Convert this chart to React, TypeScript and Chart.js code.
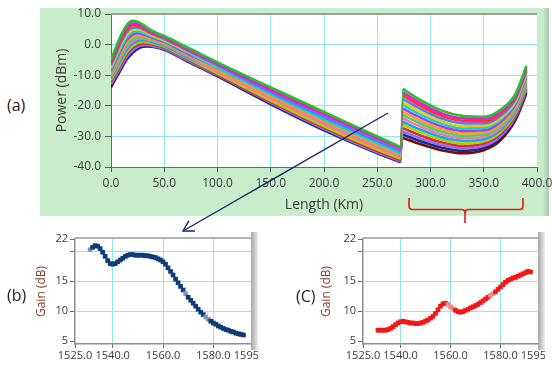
import React, { useEffect, useRef } from "react";
import { Chart, registerables } from "chart.js";
Chart.register(...registerables);

// ---------- Panel (a): power along the link ----------
// span 1: indices 0..15 (0-272 km), span 2: indices 16..23 (274-390 km)
const LENGTH_KM = [0, 5, 10, 15, 20, 25, 30, 35, 40, 50, 70, 100, 150, 200, 250, 272, 274, 290, 310, 330, 350, 365, 380, 390];
const SPAN1_END = 15;

const POWER_01 = [-5.0, -0.5, 3.5, 6.5, 7.8, 7.5, 6.5, 5.3, 4.3, 2.8, -0.6, -5.8, -14.0, -22.0, -30.0, -33.5, -14.5, -18.0, -21.5, -23.3, -23.6, -21.5, -16.0, -7.0];
const POWER_02 = [-5.6, -1.2, 2.7, 5.7, 7.0, 6.9, 6.0, 4.9, 3.9, 2.5, -1.1, -6.4, -14.9, -22.9, -30.6, -33.9, -15.6, -19.0, -22.4, -24.1, -24.3, -22.2, -16.6, -7.6];
const POWER_03 = [-6.2, -2.0, 1.9, 4.9, 6.3, 6.2, 5.5, 4.5, 3.6, 2.2, -1.3, -6.2, -14.5, -22.5, -30.5, -34.0, -16.6, -19.9, -23.2, -24.9, -25.1, -22.8, -17.1, -8.2];
const POWER_04 = [-6.8, -2.7, 1.1, 4.1, 5.5, 5.6, 5.0, 4.0, 3.2, 1.8, -1.6, -6.9, -15.6, -23.7, -31.5, -34.9, -17.7, -20.9, -24.1, -25.7, -25.8, -23.5, -17.7, -8.8];
const POWER_05 = [-7.4, -3.4, 0.3, 3.3, 4.8, 5.0, 4.5, 3.6, 2.8, 1.5, -1.9, -7.0, -15.2, -23.3, -31.2, -34.6, -18.8, -21.9, -25.0, -26.6, -26.5, -24.2, -18.3, -9.4];
const POWER_06 = [-8.0, -4.2, -0.5, 2.5, 4.0, 4.3, 3.9, 3.2, 2.5, 1.2, -2.2, -7.6, -16.2, -24.5, -32.2, -35.6, -19.8, -22.8, -25.8, -27.4, -27.2, -24.8, -18.8, -10.0];
const POWER_07 = [-8.6, -4.9, -1.3, 1.7, 3.3, 3.7, 3.4, 2.8, 2.1, 0.9, -2.6, -7.5, -15.9, -24.1, -32.0, -35.3, -20.9, -23.8, -26.7, -28.2, -28.0, -25.5, -19.4, -10.6];
const POWER_08 = [-9.2, -5.6, -2.1, 0.9, 2.5, 3.1, 2.9, 2.4, 1.7, 0.6, -2.9, -8.2, -16.9, -25.1, -32.8, -36.0, -22.0, -24.8, -27.6, -29.0, -28.7, -26.2, -20.0, -11.2];
const POWER_09 = [-9.8, -6.4, -2.9, 0.1, 1.8, 2.4, 2.4, 1.9, 1.4, 0.2, -3.2, -8.1, -16.6, -24.9, -32.7, -36.0, -23.0, -25.7, -28.4, -29.8, -29.4, -26.8, -20.5, -11.8];
const POWER_10 = [-10.4, -7.1, -3.7, -0.7, 1.0, 1.8, 1.9, 1.5, 1.0, -0.1, -3.5, -8.8, -17.6, -25.9, -33.6, -36.7, -24.1, -26.7, -29.3, -30.6, -30.1, -27.5, -21.1, -12.4];
const POWER_11 = [-11.0, -7.8, -4.5, -1.5, 0.3, 1.2, 1.4, 1.1, 0.6, -0.4, -3.9, -8.7, -17.3, -25.7, -33.4, -36.5, -25.2, -27.7, -30.2, -31.4, -30.9, -28.2, -21.7, -13.0];
const POWER_12 = [-11.6, -8.6, -5.3, -2.3, -0.5, 0.5, 0.9, 0.7, 0.3, -0.7, -4.2, -9.4, -18.3, -26.7, -34.3, -37.3, -26.2, -28.6, -31.0, -32.3, -31.6, -28.8, -22.2, -13.6];
const POWER_13 = [-12.2, -9.3, -6.1, -3.1, -1.2, -0.1, 0.3, 0.3, -0.1, -1.0, -4.5, -9.8, -18.7, -27.1, -34.8, -37.8, -27.3, -29.6, -31.9, -33.1, -32.3, -29.5, -22.8, -14.2];
const POWER_14 = [-12.8, -10.0, -6.9, -3.9, -2.0, -0.7, -0.2, -0.2, -0.5, -1.4, -4.9, -10.0, -19.0, -27.5, -35.2, -38.1, -28.4, -30.6, -32.8, -33.9, -33.1, -30.2, -23.4, -14.8];
const POWER_15 = [-13.4, -10.8, -7.7, -4.7, -2.8, -1.4, -0.7, -0.6, -0.8, -1.7, -5.2, -10.4, -19.5, -28.0, -35.5, -38.5, -29.4, -31.5, -33.6, -34.7, -33.8, -30.8, -23.9, -15.4];
const POWER_16 = [-14.0, -10.6, -6.9, -3.6, -1.5, -0.4, 0.2, 0.5, 0.5, 0.2, -3.0, -7.7, -16.0, -24.3, -32.2, -35.4, -30.5, -32.5, -34.5, -35.5, -34.5, -31.5, -24.5, -16.0];

const POWER_TRACES = [POWER_01, POWER_02, POWER_03, POWER_04, POWER_05, POWER_06, POWER_07, POWER_08, POWER_09, POWER_10, POWER_11, POWER_12, POWER_13, POWER_14, POWER_15, POWER_16];
const TRACE_COLORS = ["#22c32e", "#e81cd8", "#ff3030", "#4f7dff", "#e8d000", "#19d0d0", "#a040ff", "#ff9a1a", "#3ad96b", "#ff6fb5", "#10a8e8", "#a8d400", "#e02838", "#8a70ff", "#1b2a80", "#7a0c0c"];

const LENGTH_TICKS = [0, 50, 100, 150, 200, 250, 300, 350, 400];
const POWER_TICKS = [-40, -30, -20, -10, 0, 10];

// ---------- Panels (b) and (c): gain spectra ----------
const WL_B = [1531, 1532, 1533, 1534, 1535, 1536, 1537, 1538, 1539, 1540, 1541, 1542, 1543, 1544, 1545, 1546, 1547, 1548, 1549, 1550, 1551, 1552, 1553, 1554, 1555, 1556, 1557, 1558, 1559, 1560, 1561, 1562, 1563, 1564, 1565, 1566, 1567, 1568, 1569, 1570, 1571, 1572, 1573, 1574, 1575, 1576, 1577, 1578, 1579, 1580, 1581, 1582, 1583, 1584, 1585, 1586, 1587, 1588, 1589, 1590, 1591, 1592];
const GAIN_B = [20.2, 20.6, 20.9, 20.8, 20.4, 19.8, 19.1, 18.4, 17.9, 17.8, 17.9, 18.2, 18.5, 18.8, 19.1, 19.3, 19.4, 19.4, 19.3, 19.3, 19.3, 19.3, 19.2, 19.2, 19.1, 19.0, 18.9, 18.7, 18.5, 18.2, 17.8, 17.2, 16.6, 16.0, 15.3, 14.7, 14.1, 13.5, 12.9, 12.3, 11.8, 11.3, 10.8, 10.3, 9.8, 9.4, 9.0, 8.6, 8.3, 8.0, 7.8, 7.5, 7.3, 7.1, 6.9, 6.8, 6.6, 6.5, 6.3, 6.2, 6.1, 6.0];
const LIGHT_B = [1531, 1569, 1577, 1578];

const WL_C = [1531, 1532, 1533, 1534, 1535, 1536, 1537, 1538, 1539, 1540, 1541, 1542, 1543, 1544, 1545, 1546, 1547, 1548, 1549, 1550, 1551, 1552, 1553, 1554, 1555, 1556, 1557, 1558, 1559, 1560, 1561, 1562, 1563, 1564, 1565, 1566, 1567, 1568, 1569, 1570, 1571, 1572, 1573, 1574, 1575, 1576, 1577, 1578, 1579, 1580, 1581, 1582, 1583, 1584, 1585, 1586, 1587, 1588, 1589, 1590, 1591, 1592];
const GAIN_C = [6.8, 6.8, 6.8, 6.8, 6.9, 7.1, 7.4, 7.7, 8.0, 8.2, 8.3, 8.2, 8.1, 8.0, 8.0, 7.9, 7.9, 8.0, 8.1, 8.3, 8.5, 8.8, 9.1, 9.6, 10.2, 10.8, 11.2, 11.3, 11.1, 10.7, 10.4, 10.1, 9.9, 9.8, 9.9, 10.1, 10.3, 10.5, 10.7, 10.9, 11.1, 11.4, 11.7, 12.0, 12.3, 12.6, 12.9, 13.2, 13.6, 14.0, 14.4, 14.8, 15.1, 15.3, 15.5, 15.6, 15.8, 16.0, 16.2, 16.4, 16.6, 16.5];
const LIGHT_C = [1559, 1560, 1561, 1576, 1577];

const WL_TICKS = [1525, 1540, 1560, 1580, 1595];
const WL_TICK_LABELS = ["1525.0", "1540.0", "1560.0", "1580.0", "1595.0"];
const GAIN_TICKS = [5, 10, 15, 20, 22];
const GAIN_TICK_LABELS = ["5", "10", "15", "", "22"];

// ---------- styles ----------
const FONT = "'Open Sans', 'Noto Sans', 'DejaVu Sans', sans-serif";
const TEXT = "#3a3a3a";
const GRID = "#8fe6ef";
const NONE = "rgba(0,0,0,0)";

const plotFrame = {
  id: "plotFrame",
  beforeDraw(chart: any) {
    const { ctx, chartArea: a } = chart;
    ctx.save();
    ctx.fillStyle = "#ffffff";
    ctx.fillRect(a.left, a.top, a.right - a.left, a.bottom - a.top);
    ctx.restore();
  },
  afterDraw(chart: any) {
    const { ctx, chartArea: a } = chart;
    ctx.save();
    ctx.strokeStyle = "#9c9c9c";
    ctx.lineWidth = 2;
    ctx.beginPath();
    ctx.moveTo(a.left, a.top);
    ctx.lineTo(a.right, a.top);
    ctx.stroke();
    ctx.restore();
  },
};

function pts(vals: number[], from: number, to: number) {
  const out: { x: number; y: number }[] = [];
  for (let j = from; j <= to; j++) out.push({ x: LENGTH_KM[j], y: vals[j] });
  return out;
}

function mainConfig(): any {
  const datasets: any[] = [];
  POWER_TRACES.forEach((vals, i) => {
    const base = { borderColor: TRACE_COLORS[i], borderWidth: 2.6, pointRadius: 0, fill: false };
    datasets.push({ ...base, data: pts(vals, 0, SPAN1_END), cubicInterpolationMode: "monotone" });
    datasets.push({ ...base, data: pts(vals, SPAN1_END, SPAN1_END + 1), tension: 0, borderWidth: 1.2 });
    datasets.push({ ...base, data: pts(vals, SPAN1_END + 1, LENGTH_KM.length - 1), cubicInterpolationMode: "monotone" });
  });
  return {
    type: "line",
    data: { datasets },
    options: {
      animation: false,
      responsive: false,
      maintainAspectRatio: false,
      events: [],
      layout: { padding: { top: 12, right: 15, bottom: 0, left: 0 } },
      plugins: { legend: { display: false }, tooltip: { enabled: false } },
      scales: {
        x: {
          type: "linear",
          min: 0,
          max: 400,
          afterBuildTicks: (s: any) => { s.ticks = LENGTH_TICKS.map((value) => ({ value })); },
          afterFit: (s: any) => { s.height = 48; s.paddingLeft = 0; s.paddingRight = 0; },
          ticks: { autoSkip: false, maxRotation: 0, padding: 4, color: TEXT, font: { family: FONT, size: 12 }, callback: (v: any) => Number(v).toFixed(1) },
          grid: { color: (c: any) => (c.tick && (c.tick.value === 0 || c.tick.value === 400) ? NONE : GRID), tickColor: "#555", tickLength: 5, lineWidth: 1 },
          border: { color: "#6a6a6a", width: 1 },
          title: { display: true, text: "Length (Km)", color: TEXT, font: { family: FONT, size: 14 }, padding: { top: 0, bottom: 1.6 } },
        },
        y: {
          type: "linear",
          min: -40,
          max: 10,
          afterBuildTicks: (s: any) => { s.ticks = POWER_TICKS.map((value) => ({ value })); },
          afterFit: (s: any) => { s.width = 71; s.paddingTop = 0; s.paddingBottom = 0; },
          ticks: { autoSkip: false, padding: 4, color: TEXT, font: { family: FONT, size: 12 }, callback: (v: any) => Number(v).toFixed(1) },
          grid: { color: (c: any) => (c.tick && (c.tick.value === -40 || c.tick.value === 10) ? NONE : GRID), tickColor: "#555", tickLength: 6, lineWidth: 1 },
          border: { color: "#6a6a6a", width: 1 },
          title: { display: true, text: "Power (dBm)", color: TEXT, font: { family: FONT, size: 14 }, padding: { top: 13.6, bottom: 0 } },
        },
      },
    },
    plugins: [plotFrame],
  };
}

function gainConfig(wl: number[], gain: number[], light: number[], dark: string, pale: string, titlePad: number): any {
  return {
    type: "scatter",
    data: {
      datasets: [
        {
          data: wl.map((x, i) => ({ x, y: gain[i] })),
          showLine: false,
          pointStyle: "rect",
          pointRadius: 3.3,
          pointBorderWidth: 0,
          pointBackgroundColor: (c: any) => (light.includes(wl[c.dataIndex]) ? pale : dark),
          pointBorderColor: NONE,
        },
      ],
    },
    options: {
      animation: false,
      responsive: false,
      maintainAspectRatio: false,
      events: [],
      layout: { padding: { top: 11, right: 7, bottom: 0, left: 0 } },
      plugins: { legend: { display: false }, tooltip: { enabled: false } },
      scales: {
        x: {
          type: "linear",
          min: 1525,
          max: 1595,
          afterBuildTicks: (s: any) => { s.ticks = WL_TICKS.map((value) => ({ value })); },
          afterFit: (s: any) => { s.height = 21; s.paddingLeft = 0; s.paddingRight = 0; },
          ticks: { autoSkip: false, maxRotation: 0, padding: 1, color: TEXT, font: { family: FONT, size: 11 }, callback: (_v: any, i: number) => WL_TICK_LABELS[i] },
          grid: { color: (c: any) => (c.tick && (c.tick.value === 1525 || c.tick.value === 1595) ? NONE : GRID), tickColor: "#666", tickLength: 4, lineWidth: 1 },
          border: { color: "#8c8c8c", width: 1.5 },
        },
        y: {
          type: "linear",
          min: 4.5,
          max: 22,
          afterBuildTicks: (s: any) => { s.ticks = GAIN_TICKS.map((value) => ({ value })); },
          afterFit: (s: any) => { s.width = 55; s.paddingTop = 0; s.paddingBottom = 0; },
          ticks: { autoSkip: false, padding: 2, color: TEXT, font: { family: FONT, size: 11 }, callback: (_v: any, i: number) => GAIN_TICK_LABELS[i] },
          grid: { color: (c: any) => (c.tick && (c.tick.value === 5 || c.tick.value === 22) ? NONE : GRID), tickColor: "#666", tickLength: 5, lineWidth: 1 },
          border: { color: "#8c8c8c", width: 1.5 },
          title: { display: true, text: "Gain (dB)", color: "#8b3a26", font: { family: FONT, size: 12 }, padding: { top: titlePad, bottom: 0 } },
        },
      },
    },
    plugins: [],
  };
}

function ChartCanvas({ make, left, top, width, height }: { make: () => any; left: number; top: number; width: number; height: number }) {
  const ref = useRef<HTMLCanvasElement>(null);
  useEffect(() => {
    const chart = new Chart(ref.current as HTMLCanvasElement, make());
    return () => chart.destroy();
  }, []);
  return <canvas ref={ref} width={width} height={height} style={{ position: "absolute", left, top, width, height }} />;
}

const labelStyle = (left: number, top: number): React.CSSProperties => ({
  position: "absolute",
  left,
  top,
  fontFamily: FONT,
  fontSize: 16,
  lineHeight: "22px",
  color: "#222",
});

export default function App() {
  return (
    <div style={{ position: "fixed", left: 0, top: 0, width: 552, height: 365, background: "#ffffff", overflow: "hidden" }}>
      {/* green panel (a) */}
      <div style={{ position: "absolute", left: 40, top: 8, width: 509, height: 208, background: "#c9edca" }} />
      <div style={{ position: "absolute", left: 543, top: 8, width: 6, height: 208, background: "linear-gradient(to right, #c9edca, #a8c6a9)" }} />
      <ChartCanvas make={mainConfig} left={40} top={2} width={512} height={213} />

      {/* panel (b) */}
      <ChartCanvas make={() => gainConfig(WL_B, GAIN_B, LIGHT_B, "#0d3a78", "#7d97bd", 14.8)} left={20} top={228} width={238} height={137} />
      <div style={{ position: "absolute", left: 75, top: 237, width: 182, height: 2, background: "#b3b3b3" }} />
      <div style={{ position: "absolute", left: 251, top: 232, width: 7, height: 118, background: "linear-gradient(to right, #a6a6a6, #eeeeee)" }} />

      {/* panel (c) */}
      <ChartCanvas make={() => gainConfig(WL_C, GAIN_C, LIGHT_C, "#f21616", "#f08a8a", 11.8)} left={308} top={228} width={237} height={137} />
      <div style={{ position: "absolute", left: 363, top: 237, width: 182, height: 2, background: "#b3b3b3" }} />
      <div style={{ position: "absolute", left: 538, top: 232, width: 7, height: 118, background: "linear-gradient(to right, #a6a6a6, #eeeeee)" }} />

      {/* panel labels */}
      <div style={labelStyle(7, 94)}>(a)</div>
      <div style={labelStyle(7, 284)}>(b)</div>
      <div style={labelStyle(296, 285)}>(C)</div>

      {/* annotations */}
      <svg width={552} height={365} style={{ position: "absolute", left: 0, top: 0, pointerEvents: "none" }}>
        <line x1={388} y1={113} x2={183} y2={231} stroke="#14286e" strokeWidth={1.4} />
        <polyline points="195,231 183,231 189,220.6" fill="none" stroke="#14286e" strokeWidth={1.4} />
        <path d="M409,198 L409,206 Q409,209.5 412.5,209.5 L461.5,209.5 Q465,209.5 465,213 L465,223" fill="none" stroke="#e3191e" strokeWidth={1.6} />
        <path d="M523,198 L523,206 Q523,209.5 519.5,209.5 L468.5,209.5 Q465,209.5 465,213" fill="none" stroke="#e3191e" strokeWidth={1.6} />
      </svg>
    </div>
  );
}
